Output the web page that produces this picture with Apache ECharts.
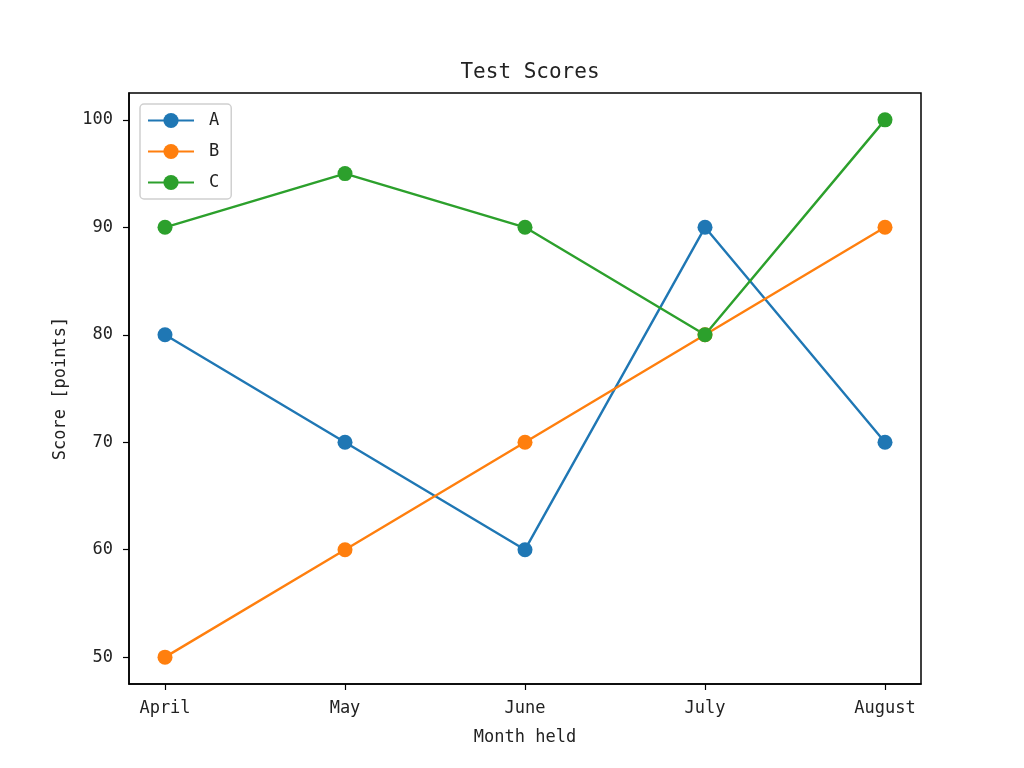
<!DOCTYPE html>
<html>
<head>
<meta charset="utf-8">
<script src="https://cdn.jsdelivr.net/npm/echarts@6/dist/echarts.min.js"></script>
<style>
  html, body { margin: 0; padding: 0; background: #fff; }
  #chart { width: 1024px; height: 768px; }
</style>
</head>
<body>
<div id="chart"></div>
<script>
var months = ['April', 'May', 'June', 'July', 'August'];
var scoresA = [80, 70, 60, 90, 70];
var scoresB = [50, 60, 70, 80, 90];
var scoresC = [90, 95, 90, 80, 100];
var yTicks = [50, 60, 70, 80, 90, 100];

var FONT = '"DejaVu Sans Mono", monospace';

function pairs(values) {
	return values.map(function (v, i) { return [i, v]; });
}

function lineSeries(name, values, color) {
	return {
		name: name,
		type: 'line',
		data: pairs(values),
		symbol: 'circle',
		symbolSize: 15,
		color: color,
		lineStyle: { width: 2.4, color: color },
		itemStyle: { color: color },
		emphasis: { disabled: true }
	};
}

var chart = echarts.init(document.getElementById('chart'));

chart.setOption({
	animation: false,
	backgroundColor: '#fff',
	title: {
		text: 'Test Scores',
		left: 525,
		top: 57,
		textAlign: 'center',
		textStyle: { fontFamily: FONT, fontSize: 21, fontWeight: 'normal', color: '#222' }
	},
	legend: {
		orient: 'vertical',
		left: 140,
		top: 104,
		itemWidth: 46,
		itemHeight: 19,
		itemGap: 14,
		padding: [8, 12, 8, 7],
		borderColor: '#d0d0d0',
		borderWidth: 1.5,
		borderRadius: 4,
		textStyle: { fontFamily: FONT, fontSize: 17, color: '#222', padding: [0, 0, 0, 10] },
		data: ['A', 'B', 'C']
	},
	grid: {
		left: 129,
		right: 103,
		top: 93,
		bottom: 84,
		show: true,
		borderColor: '#000',
		borderWidth: 1.5,
		containLabel: false
	},
	xAxis: {
		type: 'value',
		min: -0.2,
		max: 4.2,
		name: 'Month held',
		nameLocation: 'middle',
		nameGap: 45,
		nameTextStyle: { fontFamily: FONT, fontSize: 17, color: '#222' },
		splitLine: { show: false },
		axisLine: { show: true, onZero: false, lineStyle: { color: '#000', width: 1.5 } },
		axisTick: { show: true, length: 6, customValues: [0, 1, 2, 3, 4], lineStyle: { color: '#000', width: 1.2 } },
		axisLabel: {
			customValues: [0, 1, 2, 3, 4],
			margin: 16,
			fontFamily: FONT,
			fontSize: 17,
			color: '#222',
			formatter: function (v) { return months[Math.round(v)]; }
		}
	},
	yAxis: {
		type: 'value',
		min: 47.5,
		max: 102.5,
		name: 'Score [points]',
		nameLocation: 'middle',
		nameGap: 60,
		nameRotate: 90,
		nameTextStyle: { fontFamily: FONT, fontSize: 17, color: '#222' },
		splitLine: { show: false },
		axisLine: { show: true, onZero: false, lineStyle: { color: '#000', width: 1.5 } },
		axisTick: { show: true, length: 6, customValues: yTicks, lineStyle: { color: '#000', width: 1.2 } },
		axisLabel: {
			customValues: yTicks,
			margin: 16,
			fontFamily: FONT,
			fontSize: 17,
			color: '#222'
		}
	},
	series: [
		lineSeries('A', scoresA, '#1f77b4'),
		lineSeries('B', scoresB, '#ff7f0e'),
		lineSeries('C', scoresC, '#2ca02c')
	]
});
</script>
</body>
</html>
